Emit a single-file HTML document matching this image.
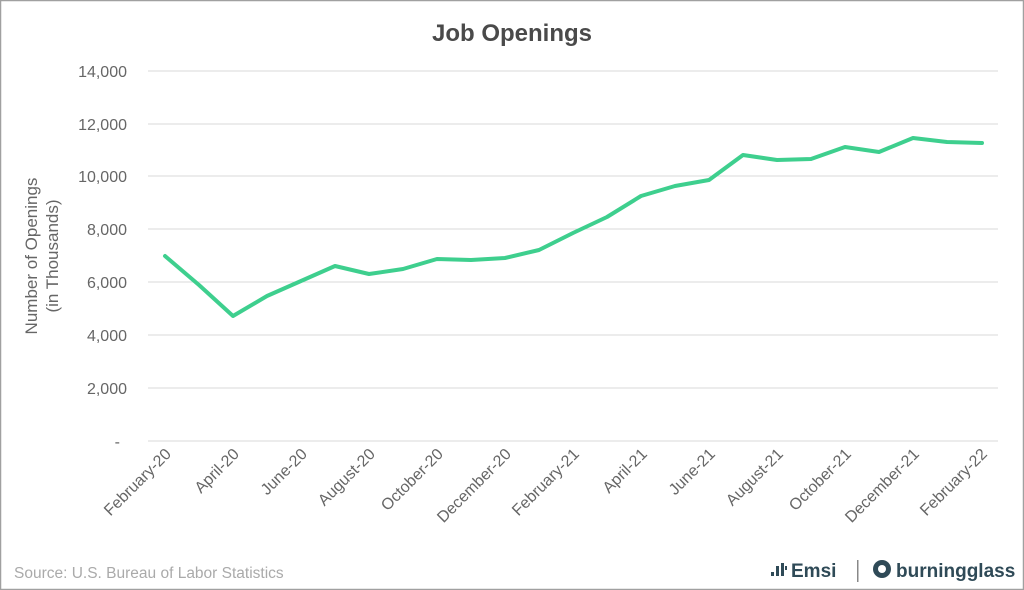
<!DOCTYPE html>
<html><head><meta charset="utf-8"><style>
html,body{margin:0;padding:0;background:#fff}
svg{display:block;font-family:"Liberation Sans",sans-serif}
</style></head><body>
<svg width="1024" height="590" viewBox="0 0 1024 590">
<rect x="0.5" y="0.5" width="1023" height="589" fill="#fff" stroke="#a0a0a0" stroke-width="1.5"/>
<text x="512" y="41" text-anchor="middle" font-size="24" font-weight="bold" fill="#4a4a4a">Job Openings</text>
<g stroke="#d9d9d9" stroke-width="1">
<line x1="148" x2="998" y1="71" y2="71"/><line x1="148" x2="998" y1="124" y2="124"/>
<line x1="148" x2="998" y1="176" y2="176"/><line x1="148" x2="998" y1="229" y2="229"/>
<line x1="148" x2="998" y1="282" y2="282"/><line x1="148" x2="998" y1="335" y2="335"/>
<line x1="148" x2="998" y1="388" y2="388"/><line x1="148" x2="998" y1="441" y2="441"/>
</g>
<g font-size="16" fill="#666" text-anchor="end">
<text x="127" y="77">14,000</text><text x="127" y="130">12,000</text><text x="127" y="182">10,000</text>
<text x="127" y="235">8,000</text><text x="127" y="288">6,000</text><text x="127" y="341">4,000</text>
<text x="127" y="394">2,000</text><text x="120" y="447">-</text>
</g>
<g font-size="17" fill="#666" text-anchor="middle">
<text transform="translate(37,256) rotate(-90)">Number of Openings</text>
<text transform="translate(58,256) rotate(-90)">(in Thousands)</text>
</g>
<g font-size="16" fill="#666" text-anchor="end">
<text transform="translate(172,455) rotate(-45)">February-20</text>
<text transform="translate(240,455) rotate(-45)">April-20</text>
<text transform="translate(308,455) rotate(-45)">June-20</text>
<text transform="translate(376,455) rotate(-45)">August-20</text>
<text transform="translate(444,455) rotate(-45)">October-20</text>
<text transform="translate(512,455) rotate(-45)">December-20</text>
<text transform="translate(580,455) rotate(-45)">February-21</text>
<text transform="translate(648,455) rotate(-45)">April-21</text>
<text transform="translate(716,455) rotate(-45)">June-21</text>
<text transform="translate(784,455) rotate(-45)">August-21</text>
<text transform="translate(852,455) rotate(-45)">October-21</text>
<text transform="translate(920,455) rotate(-45)">December-21</text>
<text transform="translate(988,455) rotate(-45)">February-22</text>
</g>
<polyline fill="none" stroke="#3ecf8e" stroke-width="4" stroke-linejoin="round" stroke-linecap="round"
points="165,256 199,285 233,316 267,296 301,281 335,266 369,274 403,269 437,259 471,260 505,258 539,250 573,233 607,217 641,196 675,186 709,180 743,155 777,160 811,159 845,147 879,152 913,138 947,142 982,143"/>
<text x="14" y="578" font-size="15.5" fill="#aaa">Source:  U.S. Bureau of Labor Statistics</text>
<g fill="#2f4a57">
<rect x="771" y="572" width="3" height="4"/><rect x="776" y="566" width="3" height="10"/><rect x="781" y="563" width="3" height="13"/><rect x="785" y="566" width="2" height="4"/>
<text x="791" y="577" font-size="19" font-weight="bold">Emsi</text>
<rect x="857" y="560" width="1.5" height="22" fill="#888"/>
<circle cx="882" cy="569" r="9"/><circle cx="882" cy="569" r="4" fill="#fff"/>
<text x="896" y="577" font-size="19" font-weight="bold">burningglass</text>
</g>
</svg>
</body></html>
